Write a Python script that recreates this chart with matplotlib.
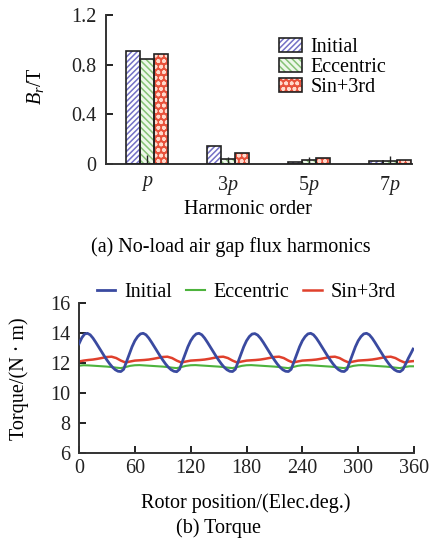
import matplotlib
matplotlib.use("Agg")
import matplotlib.pyplot as plt
import numpy as np
from matplotlib.legend_handler import HandlerTuple

plt.rcParams['font.family'] = ['Liberation Serif', 'DejaVu Serif']
plt.rcParams['mathtext.fontset'] = 'custom'
plt.rcParams['mathtext.rm'] = 'Liberation Serif'
plt.rcParams['mathtext.it'] = 'Liberation Serif:italic'
plt.rcParams['hatch.linewidth'] = 1.1

# ---------------- data: harmonics ----------------
harmonics = [r'$p$', r'3$p$', r'5$p$', r'7$p$']
initial_b = [0.91, 0.147, 0.013, 0.027]
eccentric_b = [0.843, 0.04, 0.03, 0.027]
sin3_b = [0.886, 0.091, 0.05, 0.03]
ecc_marks = [0.07, 0.055, 0.06, 0.064]

# ---------------- data: torque ----------------
deg_init = [0, 3, 6, 9, 12, 15, 18, 21, 24, 27, 30, 33, 36, 39, 42, 45, 48, 51, 54, 57,
            60, 63, 66, 69, 72, 75, 78, 81, 84, 87, 90, 93, 96, 99, 102, 105, 108, 111, 114, 117,
            120, 123, 126, 129, 132, 135, 138, 141, 144, 147, 150, 153, 156, 159, 162, 165, 168, 171, 174, 177,
            180, 183, 186, 189, 192, 195, 198, 201, 204, 207, 210, 213, 216, 219, 222, 225, 228, 231, 234, 237,
            240, 243, 246, 249, 252, 255, 258, 261, 264, 267, 270, 273, 276, 279, 282, 285, 288, 291, 294, 297,
            300, 303, 306, 309, 312, 315, 318, 321, 324, 327, 330, 333, 336, 339, 342, 345, 348, 351, 354, 357, 359]
torque_init = [13.3, 13.7, 13.95, 14.0, 13.9, 13.68, 13.4, 13.1, 12.8, 12.5, 12.22, 11.96, 11.74, 11.57, 11.47, 11.45, 11.6, 12.1, 12.6, 13.1,
               13.5, 13.78, 13.96, 14.0, 13.9, 13.68, 13.4, 13.1, 12.8, 12.5, 12.22, 11.96, 11.74, 11.57, 11.47, 11.44, 11.6, 12.1, 12.6, 13.1,
               13.5, 13.78, 13.96, 14.0, 13.9, 13.68, 13.4, 13.1, 12.8, 12.5, 12.22, 11.96, 11.74, 11.57, 11.47, 11.45, 11.6, 12.1, 12.6, 13.1,
               13.5, 13.78, 13.95, 13.98, 13.88, 13.67, 13.4, 13.1, 12.8, 12.5, 12.22, 11.96, 11.74, 11.57, 11.47, 11.45, 11.6, 12.1, 12.6, 13.1,
               13.5, 13.78, 13.96, 14.0, 13.9, 13.68, 13.4, 13.1, 12.8, 12.5, 12.22, 11.96, 11.74, 11.57, 11.47, 11.45, 11.6, 12.1, 12.6, 13.1,
               13.5, 13.78, 13.96, 14.0, 13.9, 13.68, 13.4, 13.1, 12.8, 12.5, 12.22, 11.96, 11.74, 11.57, 11.47, 11.44, 11.58, 11.95, 12.35, 12.7, 12.95]

deg_5 = [0, 5, 10, 15, 20, 25, 30, 35, 40, 45, 50, 55,
         60, 65, 70, 75, 80, 85, 90, 95, 100, 105, 110, 115,
         120, 125, 130, 135, 140, 145, 150, 155, 160, 165, 170, 175,
         180, 185, 190, 195, 200, 205, 210, 215, 220, 225, 230, 235,
         240, 245, 250, 255, 260, 265, 270, 275, 280, 285, 290, 295,
         300, 305, 310, 315, 320, 325, 330, 335, 340, 345, 350, 355, 360]
torque_ecc = [11.84, 11.87, 11.86, 11.84, 11.82, 11.8, 11.78, 11.75, 11.71, 11.68, 11.75, 11.83,
              11.87, 11.88, 11.86, 11.84, 11.82, 11.8, 11.78, 11.75, 11.71, 11.68, 11.75, 11.83,
              11.87, 11.88, 11.86, 11.84, 11.82, 11.8, 11.78, 11.75, 11.71, 11.68, 11.75, 11.83,
              11.87, 11.88, 11.86, 11.84, 11.82, 11.8, 11.78, 11.75, 11.71, 11.68, 11.75, 11.83,
              11.87, 11.88, 11.86, 11.84, 11.82, 11.8, 11.78, 11.75, 11.71, 11.68, 11.75, 11.83,
              11.87, 11.88, 11.86, 11.84, 11.82, 11.8, 11.78, 11.75, 11.71, 11.68, 11.75, 11.8, 11.8]
torque_sin = [12.12, 12.18, 12.22, 12.25, 12.3, 12.36, 12.42, 12.44, 12.35, 12.18, 12.05, 12.12,
              12.18, 12.2, 12.22, 12.25, 12.3, 12.36, 12.42, 12.44, 12.35, 12.18, 12.05, 12.12,
              12.18, 12.2, 12.22, 12.25, 12.3, 12.36, 12.42, 12.44, 12.35, 12.18, 12.05, 12.12,
              12.18, 12.2, 12.22, 12.25, 12.3, 12.36, 12.42, 12.44, 12.35, 12.18, 12.05, 12.12,
              12.18, 12.2, 12.22, 12.25, 12.3, 12.36, 12.42, 12.44, 12.35, 12.18, 12.05, 12.12,
              12.18, 12.2, 12.22, 12.25, 12.3, 12.36, 12.42, 12.44, 12.35, 12.18, 12.05, 12.12, 12.15]

FS = 14.5
W, H = 438, 550
fig = plt.figure(figsize=(W / 100, H / 100), dpi=100)
fig.patch.set_facecolor('white')

def fx(px):
    return px / W

def fy(py):
    return 1 - py / H

# ---------------- top chart ----------------
ax1 = fig.add_axes([fx(106), fy(164), fx(412) - fx(106), fy(15) - fy(164)])
x = np.arange(len(harmonics))
bw = 0.173
series = [
    (initial_b, -bw, 'white', '#7471c6', '//////', 'Initial'),
    (eccentric_b, 0, '#eef7ea', '#86c276', '\\\\\\\\\\', 'Eccentric'),
    (sin3_b, bw, '#e8523c', '#ffd9cc', 'ooo', 'Sin+3rd'),
]
handles = []
labels = []
for vals, off, fc, hc, hatch, lab in series:
    b1 = ax1.bar(x + off, vals, bw, color=fc, edgecolor=hc, hatch=hatch, linewidth=0, zorder=2)
    b2 = ax1.bar(x + off, vals, bw, fill=False, edgecolor='#222222', linewidth=1.2, zorder=3)
    handles.append((b1.patches[0], b2.patches[0]))
    labels.append(lab)
ax1.errorbar(x, [0] * len(x), yerr=[[0] * len(x), ecc_marks], fmt='none',
             ecolor='#222222', elinewidth=1.0, capsize=0, zorder=4)

ax1.set_xlim(-0.506, 3.27)
ax1.set_ylim(0, 1.2)
ax1.set_yticks([0, 0.4, 0.8, 1.2])
ax1.set_yticklabels(['0', '0.4', '0.8', '1.2'])
ax1.set_xticks(x)
ax1.set_xticklabels(harmonics)
for s in ['top', 'right']:
    ax1.spines[s].set_visible(False)
for s in ['left', 'bottom']:
    ax1.spines[s].set_linewidth(1.4)
    ax1.spines[s].set_color('#333333')
ax1.tick_params(axis='y', direction='in', length=5, width=1.4, pad=7, labelsize=FS, colors='#222222')
ax1.tick_params(axis='x', length=0, pad=7, labelsize=FS, colors='#222222')
ax1.set_ylabel(r'$B_r$/T', fontsize=FS)
ax1.yaxis.set_label_coords((46 - 106) / 306, 0.52)

ax1.legend(handles, labels, handler_map={tuple: HandlerTuple(ndivide=1, pad=0)},
           loc='upper left', bbox_to_anchor=(fx(279), fy(38)), bbox_transform=fig.transFigure,
           frameon=False, fontsize=FS, handlelength=1.15, handleheight=0.7,
           handletextpad=0.4, labelspacing=0.05, borderpad=0, borderaxespad=0)

fig.text(fx(248), fy(210), 'Harmonic order', ha='center', va='center', fontsize=FS)
fig.text(fx(231), fy(247), '(a) No-load air gap flux harmonics', ha='center', va='center', fontsize=FS)

# ---------------- bottom chart ----------------
ax2 = fig.add_axes([fx(79), fy(453.3), fx(414) - fx(79), fy(303.3) - fy(453.3)])
l1, = ax2.plot(deg_init, torque_init, color='#3a4aa0', lw=2.0, label='Initial', zorder=3)
l2, = ax2.plot(deg_5, torque_ecc, color='#4db33d', lw=1.5, label='Eccentric', zorder=2)
l3, = ax2.plot(deg_5, torque_sin, color='#e0402c', lw=1.8, label='Sin+3rd', zorder=2)
ax2.set_xlim(0, 360)
ax2.set_ylim(6, 16)
ax2.set_xticks(np.arange(0, 361, 60))
ax2.set_yticks(np.arange(6, 17, 2))
for s in ['top', 'right']:
    ax2.spines[s].set_visible(False)
for s in ['left', 'bottom']:
    ax2.spines[s].set_linewidth(1.4)
    ax2.spines[s].set_color('#333333')
ax2.tick_params(axis='both', direction='in', length=5, width=1.4, labelsize=FS, colors='#222222')
ax2.tick_params(axis='y', pad=6)
ax2.tick_params(axis='x', pad=4)
ax2.set_ylabel('Torque/(N · m)', fontsize=FS)
ax2.yaxis.set_label_coords((29 - 79) / 335, 0.5)

ax2.legend(handles=[l1, l2, l3], loc='center', bbox_to_anchor=(fx(246.5), fy(292)),
           bbox_transform=fig.transFigure, ncol=3, frameon=False, fontsize=FS,
           handlelength=0.9, handletextpad=0.45, columnspacing=0.7, borderpad=0)

fig.text(fx(246), fy(503), 'Rotor position/(Elec.deg.)', ha='center', va='center', fontsize=FS)
fig.text(fx(219), fy(528), '(b) Torque', ha='center', va='center', fontsize=FS)

fig.savefig('out.png', dpi=100, facecolor='white')
